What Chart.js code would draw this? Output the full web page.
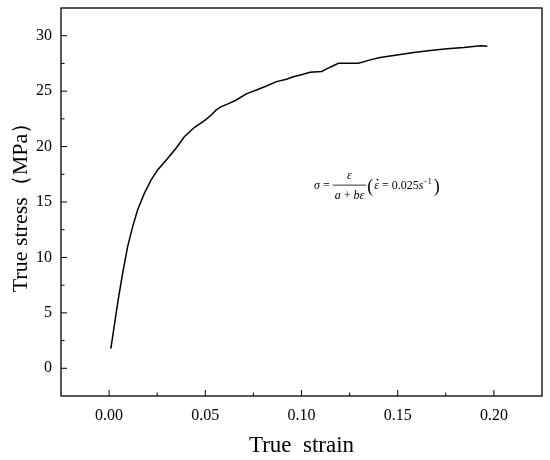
<!DOCTYPE html>
<html lang="en">
<head>
  <meta charset="UTF-8" />
  <title>True stress - true strain</title>
  <script src="https://cdn.jsdelivr.net/npm/chart.js"></script>
  <style>
    body {
      margin: 0;
      background: #ffffff;
    }
    canvas {
      display: block;
    }
  </style>
</head>
<body>

  <canvas id="curveChart" width="550" height="460"></canvas>

  <script>
    // values
    const strain = [0.0009, 0.0026, 0.0047, 0.0070, 0.0096, 0.0122, 0.0148, 0.0183, 0.0218, 0.0252,
                    0.0305, 0.0348, 0.0391, 0.0444, 0.0496, 0.0531, 0.0557, 0.0583, 0.0618, 0.0661,
                    0.0713, 0.0766, 0.0818, 0.0870, 0.0922, 0.0957, 0.1000, 0.1044, 0.1105, 0.1148,
                    0.1192, 0.1244, 0.1296, 0.1357, 0.1409, 0.1496, 0.1583, 0.1670, 0.1757, 0.1844,
                    0.1931, 0.1966];
    const stress = [1.78, 3.73, 6.14, 8.55, 10.96, 12.76, 14.27, 15.78, 16.98, 17.89,
                    18.94, 19.85, 20.89, 21.74, 22.34, 22.85, 23.31, 23.60, 23.85, 24.20,
                    24.75, 25.10, 25.47, 25.86, 26.08, 26.30, 26.48, 26.70, 26.77, 27.16,
                    27.52, 27.52, 27.52, 27.82, 28.03, 28.25, 28.48, 28.66, 28.82, 28.93,
                    29.09, 29.06];
    const xTicks = [0, 0.05, 0.10, 0.15, 0.20];
    const yTicks = [0, 5, 10, 15, 20, 25, 30];
    const xMinor = [0.025, 0.075, 0.125, 0.175];
    const yMinor = [2.5, 7.5, 12.5, 17.5, 22.5, 27.5];

    const serif = '"Liberation Serif", "Times New Roman", serif';
    Chart.defaults.font.family = serif;
    Chart.defaults.color = '#000';

    const punkte = strain.map((s, i) => ({ x: s, y: stress[i] }));

    // frame and inward ticks like the original plot
    const rahmen = {
      id: 'rahmen',
      afterDraw(chart) {
        const { ctx, chartArea: a, scales } = chart;
        ctx.save();
        ctx.strokeStyle = '#000';
        ctx.lineWidth = 1.3;
        ctx.strokeRect(a.left, a.top, a.right - a.left, a.bottom - a.top);
        ctx.lineWidth = 1;
        ctx.beginPath();
        xTicks.forEach(v => {
          const px = scales.x.getPixelForValue(v);
          ctx.moveTo(px, a.bottom); ctx.lineTo(px, a.bottom - 6);
        });
        xMinor.forEach(v => {
          const px = scales.x.getPixelForValue(v);
          ctx.moveTo(px, a.bottom); ctx.lineTo(px, a.bottom - 3.5);
        });
        yTicks.forEach(v => {
          const py = scales.y.getPixelForValue(v);
          ctx.moveTo(a.left, py); ctx.lineTo(a.left + 6, py);
        });
        yMinor.forEach(v => {
          const py = scales.y.getPixelForValue(v);
          ctx.moveTo(a.left, py); ctx.lineTo(a.left + 3.5, py);
        });
        ctx.stroke();
        ctx.restore();
      }
    };

    // the fitted law written in the plot
    const formel = {
      id: 'formel',
      afterDraw(chart) {
        const { ctx, scales } = chart;
        let x = scales.x.getPixelForValue(0.1065);
        const base = scales.y.getPixelForValue(16.2);
        const it = '12px ' + serif;
        const itk = 'italic 12px ' + serif;
        ctx.save();
        ctx.fillStyle = '#000';
        ctx.textBaseline = 'alphabetic';
        ctx.textAlign = 'left';

        ctx.font = itk;
        ctx.fillText('σ', x, base);
        x += ctx.measureText('σ').width + 3;
        ctx.font = it;
        ctx.fillText('=', x, base);
        x += ctx.measureText('=').width + 3;

        // fraction
        const unten = ['a', ' + ', 'b', 'ε'];
        const fonts = [itk, it, itk, itk];
        let w = 0;
        unten.forEach((t, i) => { ctx.font = fonts[i]; w += ctx.measureText(t).width; });
        const bw = w + 4;
        const mid = x + bw / 2;
        ctx.font = itk;
        ctx.fillText('ε', mid - ctx.measureText('ε').width / 2, base - 10);
        ctx.fillRect(x, base - 4, bw, 0.8);
        let dx = mid - w / 2;
        unten.forEach((t, i) => {
          ctx.font = fonts[i];
          ctx.fillText(t, dx, base + 10);
          dx += ctx.measureText(t).width;
        });
        x += bw + 1;

        // bracket part
        ctx.font = '18px ' + serif;
        ctx.fillText('(', x, base + 3);
        x += ctx.measureText('(').width + 1;
        ctx.font = itk;
        ctx.fillText('ε', x, base);
        const ew = ctx.measureText('ε').width;
        ctx.beginPath();
        ctx.arc(x + ew / 2 + 1, base - 9, 0.9, 0, Math.PI * 2);
        ctx.fill();
        x += ew + 3;
        ctx.font = it;
        ctx.fillText('= 0.025', x, base);
        x += ctx.measureText('= 0.025').width;
        ctx.font = itk;
        ctx.fillText('s', x, base);
        x += ctx.measureText('s').width;
        ctx.font = '8px ' + serif;
        ctx.fillText('−1', x, base - 5);
        x += ctx.measureText('−1').width + 2;
        ctx.font = '18px ' + serif;
        ctx.fillText(')', x, base + 3);
        ctx.restore();
      }
    };

    new Chart(document.getElementById('curveChart').getContext('2d'), {
      type: 'scatter',
      data: {
        datasets: [{
          label: 'True stress',
          data: punkte,
          showLine: true,
          borderColor: '#000',
          borderWidth: 1.5,
          pointRadius: 0,
          tension: 0
        }]
      },
      options: {
        responsive: false,
        animation: false,
        layout: { padding: { top: 8, right: 8, left: 0, bottom: 0 } },
        plugins: {
          legend: { display: false },
          tooltip: { enabled: false }
        },
        scales: {
          x: {
            type: 'linear',
            min: -0.025,
            max: 0.225,
            grid: { display: false, drawTicks: false },
            border: { display: false },
            afterBuildTicks: s => { s.ticks = xTicks.map(v => ({ value: v })); },
            afterFit: s => { s.height = 64; s.paddingLeft = 0; s.paddingRight = 0; },
            ticks: {
              padding: 10,
              font: { size: 16 },
              maxRotation: 0,
              callback: v => Number(v).toFixed(2)
            },
            title: {
              display: true,
              text: 'True  strain',
              font: { size: 23 },
              padding: { top: 0, bottom: 0 }
            }
          },
          y: {
            min: -2.5,
            max: 32.5,
            grid: { display: false, drawTicks: false },
            border: { display: false },
            afterBuildTicks: s => { s.ticks = yTicks.map(v => ({ value: v })); },
            afterFit: s => { s.width = 61; s.paddingTop = 0; s.paddingBottom = 0; },
            ticks: {
              padding: 9,
              font: { size: 16 },
              callback: v => String(v)
            },
            title: {
              display: true,
              text: 'True stress（MPa）',
              font: { size: 22 },
              padding: { top: 8, bottom: 0 }
            }
          }
        }
      },
      plugins: [rahmen, formel]
    });
  </script>
</body>
</html>
